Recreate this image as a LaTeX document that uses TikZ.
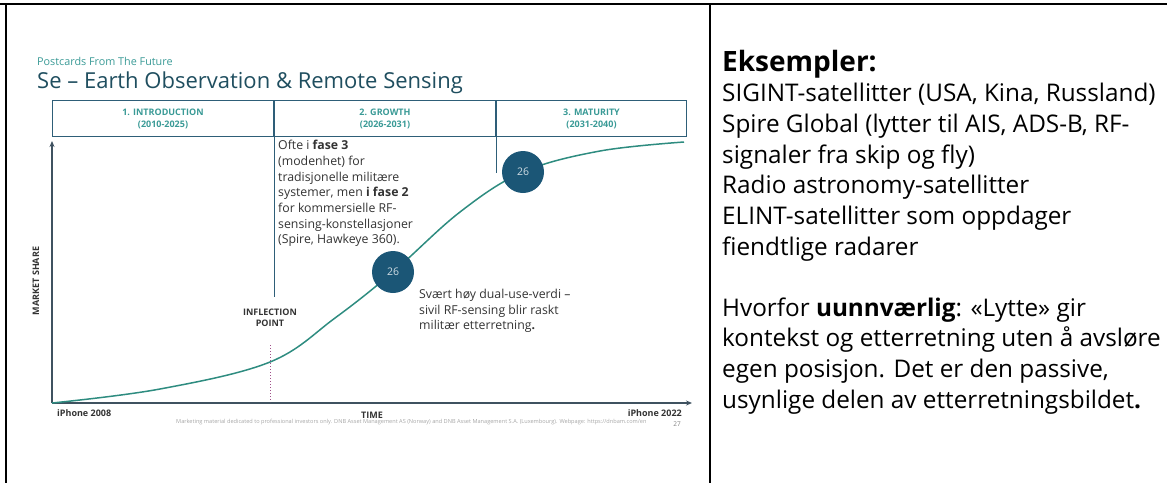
\documentclass[tikz,border=0pt]{standalone}
\usepackage{fontspec}
\setmainfont{Open Sans}
\usetikzlibrary{arrows.meta, positioning}
\definecolor{tealtext}{HTML}{3A9A96}
\definecolor{deepteal}{HTML}{1F4E5F}
\definecolor{gridline}{HTML}{2E5E78}
\definecolor{axisgray}{HTML}{3F5260}
\definecolor{curveteal}{HTML}{2E8C80}
\definecolor{bubble}{HTML}{1B5676}
\definecolor{inflect}{HTML}{A0508A}
\definecolor{darktext}{HTML}{333333}
\tikzstyle{phase} = [rectangle, draw=gridline, line width=1pt, minimum height=36pt, inner sep=0pt, text=tealtext, font=\fontsize{9}{12}\selectfont\bfseries, align=center]
\tikzstyle{marker} = [circle, fill=bubble, minimum size=42pt, inner sep=0pt, text=white!80!bubble, font=\fontsize{10.5}{12}\selectfont]
\tikzstyle{note} = [anchor=north west, align=left, inner sep=0pt, text=darktext, font=\fontsize{12.3}{15.7}\selectfont]
\tikzstyle{axislabel} = [text=darktext, font=\fontsize{9}{11}\selectfont\bfseries, align=center, inner sep=0pt]
\tikzstyle{arrow} = [line width=2pt, draw=axisgray, -{Stealth[length=6pt, width=5pt]}]
\tikzstyle{sidetext} = [anchor=north west, align=left, inner sep=0pt, font=\fontsize{24.3}{30.7}\selectfont]

\begin{document}
\begin{tikzpicture}[x=1pt, y=-1pt]
    \useasboundingbox (0,0) rectangle (1167,483);
    % frame of the table
    \draw [line width=2pt] (0,4) -- (1167,4);
    \draw [line width=1.5pt] (6,4) -- (6,483);
    \draw [line width=1.5pt] (710,4) -- (710,483);

    % slide heading
    \node (kicker) [anchor=west, inner sep=0pt, text=tealtext, font=\fontsize{10.8}{12}\selectfont]
        at (37,61) {Postcards From The Future};
    \node (title) [anchor=west, inner sep=0pt, text=deepteal, font=\fontsize{22}{26}\selectfont]
        at (37,83) {Se – Earth Observation \& Remote Sensing};

    % phases
    \node (intro) [phase, anchor=north west, minimum width=221pt] at (52,100)
        {1. INTRODUCTION\\(2010-2025)};
    \node (growth) [phase, right=0pt of intro, minimum width=221pt]
        {2. GROWTH\\(2026-2031)};
    \node (maturity) [phase, right=0pt of growth, minimum width=190pt]
        {3. MATURITY\\(2031-2040)};
    \draw [gridline, line width=1pt] (intro.south east) -- ++(0,160);
    \draw [gridline, line width=1pt] (growth.south east) -- ++(0,36);

    % axes
    \coordinate (origin) at (52,403);
    \coordinate (ytop) at (52,141);
    \coordinate (xend) at (692,403);
    \draw [arrow] (origin) -- (ytop);
    \draw [arrow] (origin) -- (xend);

    \draw [inflect, dotted, line width=1pt] (270,345) -- (270,402);
    \draw [curveteal, line width=1.5pt] plot [smooth, tension=0.6] coordinates
        {(52,403) (160,389) (270,362) (335,318) (393,272) (460,212) (523,172) (600,151) (684,142)};

    \node (dot1) [marker] at (393,272) {26};
    \node (dot2) [marker] at (523,172) {26};

    \node (fase) [note] at (278,140) {Ofte i \textbf{fase 3}\\(modenhet) for\\tradisjonelle militære\\systemer, men \textbf{i fase 2}\\for kommersielle RF-\\sensing-konstellasjoner\\(Spire, Hawkeye 360).};
    \node (dual) [note] at (419,289) {Svært høy dual-use-verdi –\\sivil RF-sensing blir raskt\\militær etterretning\textbf{.}};

    \node (inflection) [axislabel] at (270,318) {INFLECTION\\POINT};
    \node (share) [axislabel, rotate=90] at (36,281) {MARKET SHARE};
    \node (start) [axislabel, anchor=west] at (57,413) {iPhone 2008};
    \node (time) [axislabel] at (372,415) {TIME};
    \node (end) [axislabel, anchor=east] at (682,413) {iPhone 2022};
    \node (footer) [anchor=west, inner sep=0pt, text=gray!70, font=\fontsize{5.6}{6}\selectfont] at (176,422)
        {Marketing material dedicated to professional investors only. DNB Asset Management AS (Norway) and DNB Asset Management S.A. (Luxembourg). Webpage: https://dnbam.com/en};
    \node (page) [inner sep=0pt, text=gray, font=\fontsize{6.5}{7}\selectfont] at (677,424) {27};

    % right column
    \node (eks) [anchor=west, inner sep=0pt, font=\fontsize{28}{30}\selectfont\bfseries] at (722,64) {Eksempler:};
    \node (list) [sidetext] at (722,83) {SIGINT-satellitter (USA, Kina, Russland)\\Spire Global (lytter til AIS, ADS-B, RF-\\signaler fra skip og fly)\\Radio astronomy-satellitter\\ELINT-satellitter som oppdager\\fiendtlige radarer};
    \node (why) [sidetext, below=36pt of list.south west, anchor=north west] {Hvorfor \textbf{uunnværlig}: «Lytte» gir\\kontekst og etterretning uten å avsløre\\egen posisjon. Det er den passive,\\usynlige delen av etterretningsbildet\textbf{.}};
\end{tikzpicture}
\end{document}
